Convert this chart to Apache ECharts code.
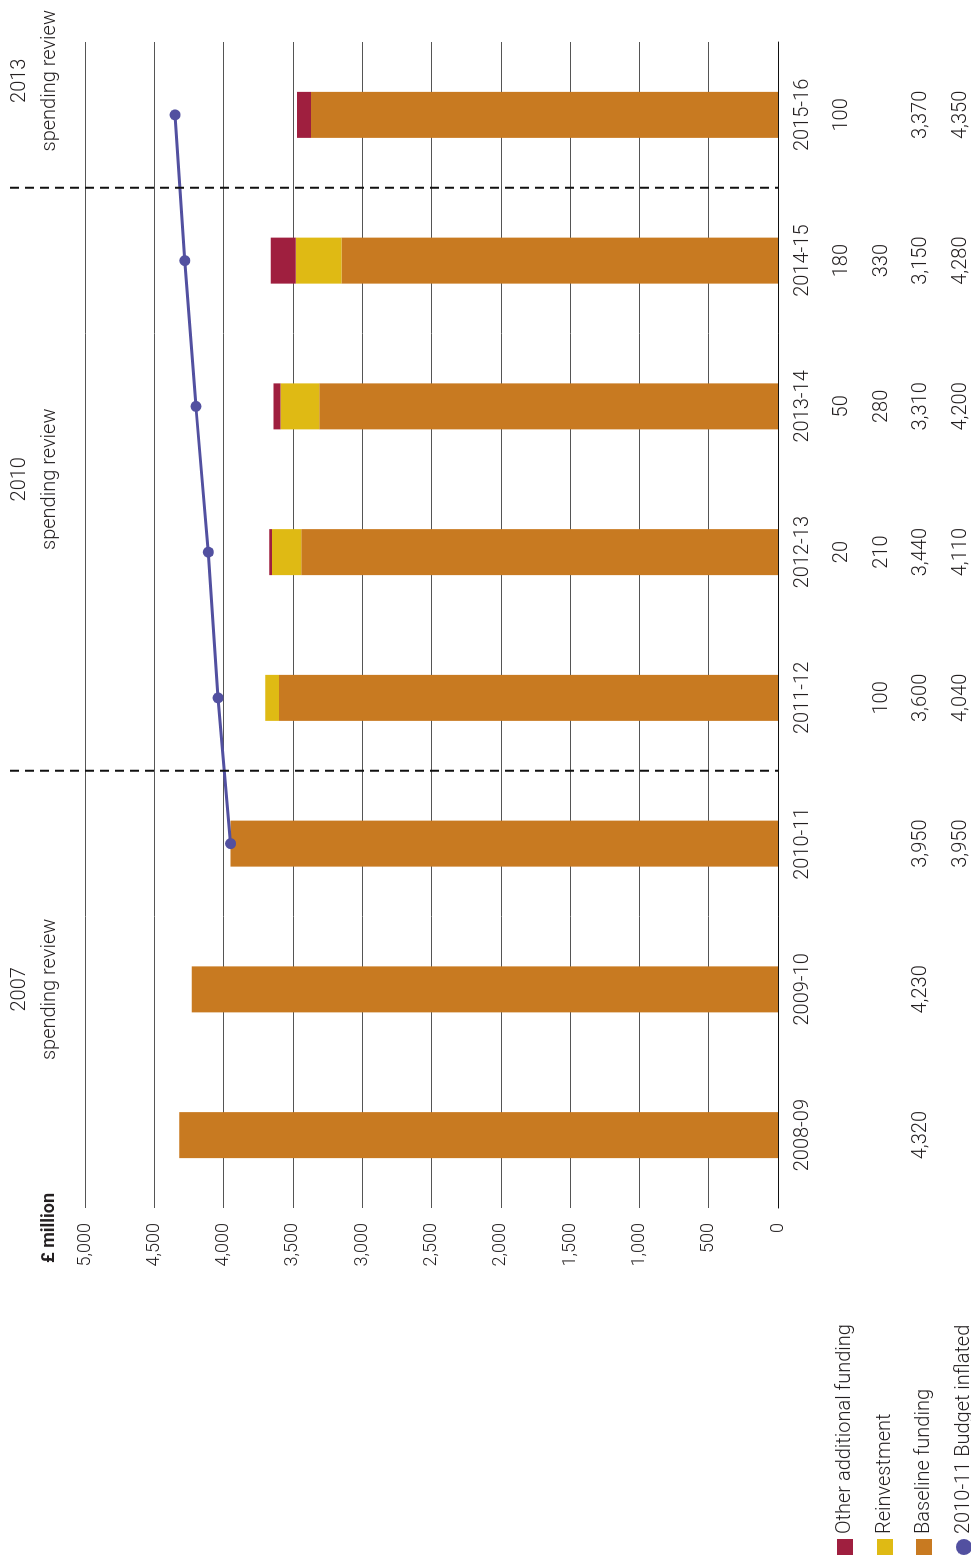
<!DOCTYPE html>
<html>
<head>
<meta charset="utf-8">
<script src="https://cdn.jsdelivr.net/npm/echarts@6/dist/echarts.min.js"></script>
<style>
  html, body { margin: 0; padding: 0; background: #fff; overflow: hidden; }
  /* The chart is laid out landscape and turned a quarter turn anticlockwise onto the portrait page */
  #chart {
    position: absolute; left: 0; top: 0;
    width: 1560px; height: 971px;
    transform-origin: 0 0;
    transform: translate(0, 1560px) rotate(-90deg);
  }
</style>
</head>
<body>
<div id="chart"></div>
<script>
// Financial years
const categories = ['2008-09', '2009-10', '2010-11', '2011-12', '2012-13', '2013-14', '2014-15', '2015-16'];
// £ million
const baselineFunding = [4320, 4230, 3950, 3600, 3440, 3310, 3150, 3370];
const reinvestment = [null, null, null, 100, 210, 280, 330, null];
const otherAdditional = [null, null, null, null, 20, 50, 180, 100];
const budgetInflated = [null, null, 3950, 4040, 4110, 4200, 4280, 4350];
// Value axis ticks
const valueMin = 0, valueMax = 5000, valueStep = 500;
// Spending review periods: label and first year index
const reviewNames = ['2007', '2010', '2013'];
const reviewStarts = [0, 3, 7];

const W = 1560;
const FONT = 'Roboto, "Liberation Sans", sans-serif';
const TEXT = '#231f20';
const COLORS = {
  other: '#9f1f3f',
  reinvest: '#dfba14',
  baseline: '#c87a21',
  budget: '#5250a0'
};

const fmt = v => (v === null || v === undefined) ? '' : v.toLocaleString('en-US');
const rows = [null, otherAdditional, reinvestment, baselineFunding, budgetInflated];
const rowOffsets = [0, 39, 79, 118, 158];

const xAxes = rows.map((row, i) => ({
  type: 'category',
  data: categories,
  gridIndex: 0,
  position: 'bottom',
  offset: rowOffsets[i],
  axisLine: { show: i === 0, lineStyle: { color: '#111', width: 1 } },
  axisTick: { show: false },
  splitLine: { show: false },
  axisLabel: {
    margin: 15,
    interval: 0,
    fontFamily: FONT,
    fontWeight: 300,
    fontSize: 20,
    color: TEXT,
    formatter: (v, idx) => row ? fmt(row[idx]) : v
  }
}));

// One legend block per row so each key lines up with its value row
const legendItems = [
  { name: 'Other additional funding', icon: 'rect' },
  { name: 'Reinvestment', icon: 'rect' },
  { name: 'Baseline funding', icon: 'rect' },
  { name: '2010-11 Budget inflated', icon: 'circle' }
];
const legends = legendItems.map((item, i) => ({
  orient: 'vertical',
  left: 5,
  top: 779 + 25 + rowOffsets[i + 1] - 8,
  padding: 0,
  itemWidth: 16,
  itemHeight: 16,
  itemGap: 10,
  textStyle: { fontFamily: FONT, fontWeight: 300, fontSize: 20, color: TEXT, lineHeight: 16 },
  data: [item]
}));

const chart = echarts.init(document.getElementById('chart'), null, { renderer: 'canvas' });

chart.setOption({
  animation: false,
  backgroundColor: '#fff',
  title: {
    text: '£ million',
    left: 292,
    top: 35,
    textStyle: { fontFamily: FONT, fontSize: 18, fontWeight: 'bold', color: TEXT }
  },
  legend: legends,
  grid: { left: 352, right: 42, top: 85, bottom: 192 },
  xAxis: xAxes,
  yAxis: {
    type: 'value',
    min: valueMin,
    max: valueMax,
    interval: valueStep,
    axisLine: { show: false },
    axisTick: { show: false },
    splitLine: { lineStyle: { color: '#555', width: 1 } },
    axisLabel: {
      margin: 15,
      fontFamily: FONT,
      fontWeight: 300,
      fontSize: 18,
      color: TEXT,
      formatter: v => v.toLocaleString('en-US')
    }
  },
  series: [
    {
      name: 'Baseline funding', type: 'bar', stack: 'funding', barWidth: 46,
      itemStyle: { color: COLORS.baseline },
      data: baselineFunding.map(v => v ?? 0)
    },
    {
      name: 'Reinvestment', type: 'bar', stack: 'funding', barWidth: 46,
      itemStyle: { color: COLORS.reinvest },
      data: reinvestment.map(v => v ?? 0)
    },
    {
      name: 'Other additional funding', type: 'bar', stack: 'funding', barWidth: 46,
      itemStyle: { color: COLORS.other },
      data: otherAdditional.map(v => v ?? 0)
    },
    {
      name: '2010-11 Budget inflated', type: 'line',
      symbol: 'circle', symbolSize: 11,
      lineStyle: { color: COLORS.budget, width: 3 },
      itemStyle: { color: COLORS.budget },
      data: budgetInflated,
      z: 5
    }
  ]
});

// Spending review dividers and headings, placed from the category axis scale
const centre = i => chart.convertToPixel({ xAxisIndex: 0 }, i);
const zeroY = chart.convertToPixel({ yAxisIndex: 0 }, 0);
const step = centre(1) - centre(0);
const first = centre(0) - step / 2;
const last = centre(categories.length - 1) + step / 2;
const edgeAt = i => i <= 0 ? first : (i >= categories.length ? last : (centre(i - 1) + centre(i)) / 2);

const headingFont = '300 20px ' + FONT;
const measure = document.createElement('canvas').getContext('2d');
measure.font = headingFont;
const headingHalf = measure.measureText('spending review').width / 2;

const graphics = [];
reviewStarts.forEach((start, k) => {
  const end = k + 1 < reviewStarts.length ? reviewStarts[k + 1] : categories.length;
  if (start > 0) {
    const x = edgeAt(start);
    graphics.push({
      type: 'line',
      shape: { x1: x, y1: 10, x2: x, y2: zeroY },
      style: { stroke: '#111', lineWidth: 2, lineDash: [9, 6] },
      z: 10
    });
  }
  // the last heading sits against the page edge
  const mid = end === categories.length
    ? W - 10 - headingHalf
    : (edgeAt(start) + edgeAt(end)) / 2;
  graphics.push({
    type: 'text',
    x: mid,
    y: 35,
    style: {
      text: reviewNames[k] + '\nspending review',
      font: headingFont,
      fill: TEXT,
      align: 'center',
      verticalAlign: 'middle',
      lineHeight: 30
    }
  });
});
chart.setOption({ graphic: graphics });
</script>
</body>
</html>
